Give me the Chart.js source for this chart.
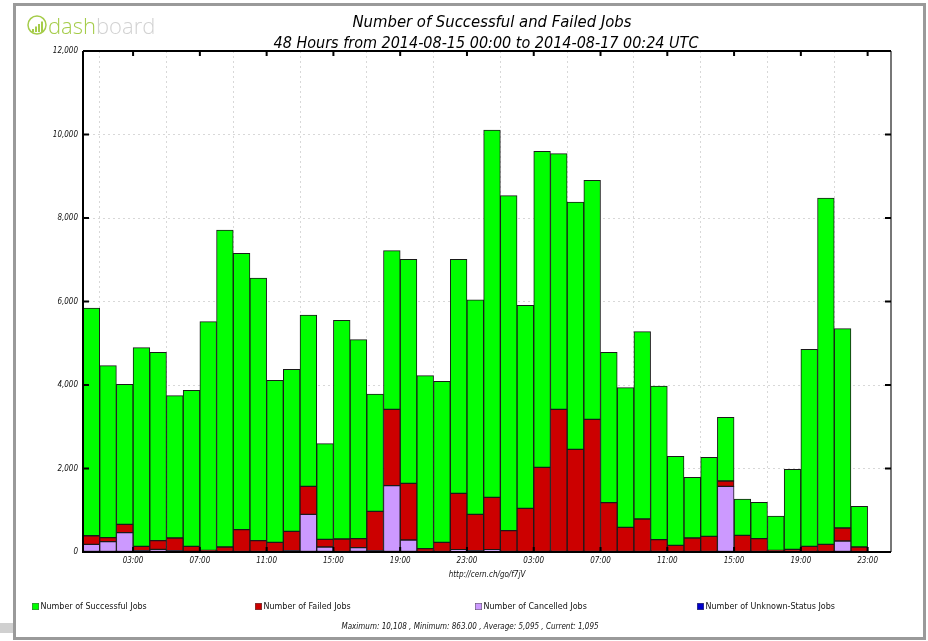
<!DOCTYPE html>
<html>
<head>
<meta charset="utf-8">
<script src="https://cdn.jsdelivr.net/npm/chart.js@4.4.1/dist/chart.umd.min.js"></script>
<style>
  body { margin: 0; background: #fff; }
  canvas { display: block; }
</style>
</head>
<body>
<canvas id="jobsChart" width="928" height="641"></canvas>
<script>
// hourly bins, 2014-08-15 00:00 onwards
const hours = [0,1,2,3,4,5,6,7,8,9,10,11,12,13,14,15,16,17,18,19,20,21,22,23,
  24,25,26,27,28,29,30,31,32,33,34,35,36,37,38,39,40,41,42,43,44,45,46];

const successJobs = [5454,4120,3353,4758,4511,3410,3736,5477,7593,6619,6292,3881,3880,4104,2292,5238,
  4767,2810,3801,5365,4144,3857,5605,5138,8799,8024,4862,7569,6124,5924,5725,3600,
  3345,4487,3681,2131,1453,1892,1526,870,871,823,1916,4718,8295,4774,975];
const failedJobs = [206,96,200,104,207,303,120,40,120,535,271,231,463,671,183,311,
  215,942,1828,1358,80,231,1349,870,1253,511,1046,2028,3417,2459,3177,1182,
  591,790,295,160,335,375,127,399,319,40,64,136,184,312,120];
const cancelledJobs = [184,247,463,32,64,32,16,0,0,0,0,0,32,902,120,0,
  104,32,1589,287,0,0,56,32,56,0,0,0,0,0,0,0,
  0,0,0,0,0,0,1573,0,0,0,0,0,0,263,0];
const unknownJobs = hours.map(() => 0);

const tickHours = [3,7,11,15,19,23,27,31,35,39,43,47];
const tickLabels = ["03:00","07:00","11:00","15:00","19:00","23:00",
  "03:00","07:00","11:00","15:00","19:00","23:00"];
const yTicks = [0,2000,4000,6000,8000,10000,12000];

const titleText = "Number of Successful and Failed Jobs";
const subTitleText = "48 Hours from 2014-08-15 00:00 to 2014-08-17 00:24 UTC";
const statsText = "Maximum: 10,108 , Minimum: 863.00 , Average: 5,095 , Current: 1,095";
const urlText = "http://cern.ch/go/f7jV";

const FONT = "'DejaVu Sans Condensed', 'DejaVu Sans', sans-serif";

const toPoints = (arr) => arr.map((v, i) => ({ x: hours[i] + 0.5, y: v }));

const seriesList = [
  { label: "Number of Cancelled Jobs", data: cancelledJobs, color: "#cc99ff" },
  { label: "Number of Failed Jobs", data: failedJobs, color: "#cc0000" },
  { label: "Number of Successful Jobs", data: successJobs, color: "#00ff00" },
  { label: "Number of Unknown-Status Jobs", data: unknownJobs, color: "#0000cc" },
];

const legendOrder = [
  { name: "Number of Successful Jobs", x: 32 },
  { name: "Number of Failed Jobs", x: 255 },
  { name: "Number of Cancelled Jobs", x: 475 },
  { name: "Number of Unknown-Status Jobs", x: 697 },
];

const decor = {
  id: "decor",
  beforeDraw(chart) {
    const ctx = chart.ctx;
    ctx.save();
    ctx.fillStyle = "#fff";
    ctx.fillRect(0, 0, chart.width, chart.height);

    // little grey tab on the left + frame
    ctx.fillStyle = "#d0d0d0";
    ctx.fillRect(0, 623, 15, 10);
    ctx.strokeStyle = "#9a9a9a";
    ctx.lineWidth = 3;
    ctx.strokeRect(14.5, 4.5, 910, 634);

    // logo
    ctx.strokeStyle = "#a5cc4a";
    ctx.lineWidth = 1.5;
    ctx.beginPath();
    ctx.arc(37, 25, 9, 0, Math.PI * 2);
    ctx.stroke();
    ctx.fillStyle = "#a5cc4a";
    for (let k = 0; k < 4; k++) {
      ctx.fillRect(32 + k * 3, 29 - k * 2.5, 2, 3 + k * 2.5);
    }
    ctx.font = "300 22px 'Open Sans', sans-serif";
    ctx.textBaseline = "alphabetic";
    ctx.textAlign = "left";
    ctx.fillText("dash", 48, 34);
    const w = ctx.measureText("dash").width;
    ctx.fillStyle = "#d2d2d2";
    ctx.fillText("board", 48 + w, 34);

    // titles
    ctx.fillStyle = "#000";
    ctx.textAlign = "center";
    ctx.textBaseline = "middle";
    ctx.font = "italic 16.5px " + FONT;
    ctx.fillText(titleText, 492, 23);
    ctx.font = "italic 16px " + FONT;
    ctx.fillText(subTitleText, 486, 44);
    ctx.restore();
  },
  afterDraw(chart) {
    const ctx = chart.ctx;
    const area = chart.chartArea;
    const xs = chart.scales.x, ys = chart.scales.y;
    ctx.save();

    // axis frame
    ctx.strokeStyle = "#777";
    ctx.lineWidth = 2;
    ctx.beginPath();
    ctx.moveTo(area.right, area.top);
    ctx.lineTo(area.right, area.bottom);
    ctx.stroke();
    ctx.strokeStyle = "#000";
    ctx.beginPath();
    ctx.moveTo(area.left, area.top);
    ctx.lineTo(area.right, area.top);
    ctx.moveTo(area.left, area.top);
    ctx.lineTo(area.left, area.bottom);
    ctx.lineTo(area.right, area.bottom);
    ctx.stroke();

    // inward tick marks
    ctx.lineWidth = 2;
    ctx.beginPath();
    tickHours.forEach((h) => {
      const px = xs.getPixelForValue(h);
      ctx.moveTo(px, area.top);
      ctx.lineTo(px, area.top + 5);
      ctx.moveTo(px, area.bottom);
      ctx.lineTo(px, area.bottom - 5);
    });
    yTicks.forEach((v) => {
      const py = ys.getPixelForValue(v);
      ctx.moveTo(area.left, py);
      ctx.lineTo(area.left + 6, py);
      ctx.moveTo(area.right, py);
      ctx.lineTo(area.right - 6, py);
    });
    ctx.stroke();

    ctx.fillStyle = "#111";
    ctx.textAlign = "center";
    ctx.textBaseline = "middle";
    ctx.font = "italic 8px " + FONT;
    ctx.fillText(urlText, (area.left + area.right) / 2, 575);

    // legend
    ctx.textAlign = "left";
    ctx.font = "8px 'DejaVu Sans', sans-serif";
    legendOrder.forEach((item) => {
      const ds = seriesList.find((s) => s.label === item.name);
      ctx.fillStyle = ds.color;
      ctx.fillRect(item.x, 603, 7, 7);
      ctx.strokeStyle = "#555";
      ctx.lineWidth = 0.5;
      ctx.strokeRect(item.x + 0.25, 603.25, 6.5, 6.5);
      ctx.fillStyle = "#111";
      ctx.fillText(item.name, item.x + 8.5, 607);
    });

    ctx.textAlign = "center";
    ctx.font = "italic 8px " + FONT;
    ctx.fillText(statsText, 470, 627);
    ctx.restore();
  },
};

new Chart(document.getElementById("jobsChart"), {
  type: "bar",
  data: {
    datasets: seriesList.map((s) => ({
      label: s.label,
      data: toPoints(s.data),
      backgroundColor: s.color,
      borderColor: "#1a1a1a",
      borderWidth: 1,
      borderSkipped: false,
      barPercentage: 1,
      categoryPercentage: 1,
      stack: "jobs",
    })),
  },
  options: {
    responsive: false,
    animation: false,
    devicePixelRatio: 1,
    layout: { padding: { left: 0, top: 51, right: 37, bottom: 0 } },
    plugins: { legend: { display: false }, title: { display: false }, tooltip: { enabled: false } },
    scales: {
      x: {
        type: "linear",
        stacked: true,
        offset: false,
        min: 0,
        max: 48.4,
        afterBuildTicks: (scale) => { scale.ticks = tickHours.map((h) => ({ value: h })); },
        afterFit: (scale) => { scale.height = 89; },
        ticks: {
          autoSkip: false,
          maxRotation: 0,
          padding: 4,
          color: "#111",
          font: { family: FONT, size: 8, style: "italic" },
          callback: (value) => tickLabels[tickHours.indexOf(value)] || "",
        },
        grid: { color: "#d8d8d8", lineWidth: 1, drawTicks: false },
        border: { display: false, dash: [2, 3] },
      },
      y: {
        stacked: true,
        min: 0,
        max: 12000,
        afterBuildTicks: (scale) => { scale.ticks = yTicks.map((v) => ({ value: v })); },
        afterFit: (scale) => { scale.width = 83; },
        ticks: {
          padding: 5,
          color: "#111",
          font: { family: FONT, size: 8, style: "italic" },
          callback: (value) => value.toLocaleString("en-US"),
        },
        grid: { color: "#d8d8d8", lineWidth: 1, drawTicks: false },
        border: { display: false, dash: [2, 3] },
      },
    },
  },
  plugins: [decor],
});
</script>
</body>
</html>
